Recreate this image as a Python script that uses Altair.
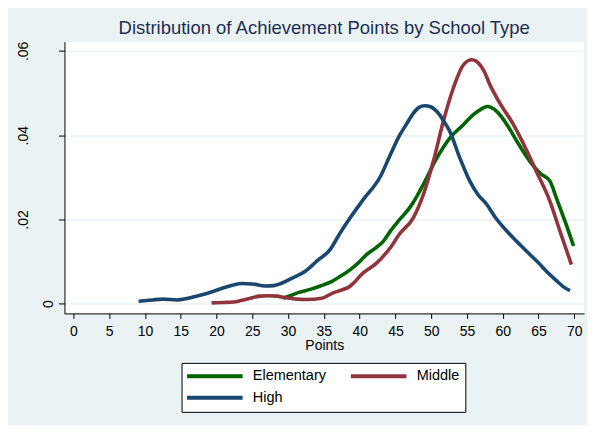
import altair as alt
import pandas as pd

# ---- data ----
high_x = [9.1, 11.0, 12.5, 14.5, 16.0, 17.7, 19.5, 21.0, 22.5, 23.5, 25.0, 26.8, 28.0, 29.0,
          30.5, 32.4, 33.5, 34.0, 35.9, 37.0, 38.2, 40.5, 42.9, 44.2, 45.6, 46.5, 47.5, 48.3,
          49.1, 50.0, 50.8, 51.7, 52.6, 54.0, 55.4, 56.5, 57.8, 59.0, 60.6, 62.0, 63.8, 65.0,
          66.1, 67.5, 68.5, 69.4]
high_y = [0.0006, 0.0009, 0.0011, 0.0009, 0.0013, 0.0020, 0.0029, 0.0038, 0.0045, 0.0048,
          0.0047, 0.0042, 0.0043, 0.0048, 0.0060, 0.0077, 0.0093, 0.0101, 0.0129, 0.0160,
          0.0192, 0.0247, 0.0302, 0.0350, 0.0400, 0.0425, 0.0452, 0.0466, 0.0470, 0.0467,
          0.0456, 0.0435, 0.0409, 0.0346, 0.0291, 0.0260, 0.0235, 0.0204, 0.0172, 0.0147,
          0.0117, 0.0097, 0.0077, 0.0055, 0.0040, 0.0031]

elem_x = [29.3, 30.5, 31.5, 33.1, 34.5, 35.9, 37.3, 38.7, 40.0, 41.0, 42.2, 43.3, 44.2, 45.6,
          47.0, 48.0, 48.9, 50.8, 52.6, 54.5, 55.9, 57.0, 57.8, 58.5, 59.2, 60.6, 62.0, 63.8,
          65.2, 66.6, 67.5, 68.7, 69.9]
elem_y = [0.0013, 0.0020, 0.0027, 0.0034, 0.0042, 0.0051, 0.0065, 0.0081, 0.0100, 0.0117,
          0.0132, 0.0148, 0.0170, 0.0200, 0.0228, 0.0255, 0.0283, 0.0346, 0.0393, 0.0425,
          0.0449, 0.0462, 0.0468, 0.0465, 0.0456, 0.0425, 0.0385, 0.0338, 0.0310, 0.0291,
          0.0251, 0.0196, 0.0137]

mid_x = [19.3, 21.0, 22.4, 23.5, 24.7, 26.0, 27.2, 28.4, 29.5, 30.7, 32.6, 34.7, 36.3, 38.7,
         40.5, 42.4, 44.2, 45.6, 47.5, 48.9, 50.3, 51.7, 53.1, 54.5, 55.7, 56.5, 57.3, 58.2,
         59.6, 61.5, 63.4, 64.7, 66.6, 68.0, 69.6]
mid_y = [0.0002, 0.0003, 0.0004, 0.0008, 0.0013, 0.0018, 0.0019, 0.0018, 0.0015, 0.0012,
         0.0010, 0.0013, 0.0026, 0.0042, 0.0073, 0.0097, 0.0131, 0.0166, 0.0204, 0.0259,
         0.0338, 0.0433, 0.0512, 0.0567, 0.0579, 0.0573, 0.0555, 0.0520, 0.0476, 0.0425,
         0.0362, 0.0314, 0.0243, 0.0172, 0.0093]

series = ["Elementary", "Middle", "High"]
colors = ["#006400", "#90353B", "#1A476F"]
x_ticks = list(range(0, 75, 5))
y_ticks = [0, 0.02, 0.04, 0.06]

frames = []
for name, xs, ys in [("Elementary", elem_x, elem_y), ("Middle", mid_x, mid_y), ("High", high_x, high_y)]:
    frames.append(pd.DataFrame({"Points": xs, "Density": ys, "School": name,
                                "order": range(len(xs))}))
df = pd.concat(frames, ignore_index=True)

FONT = "Liberation Sans"
BG = "#EAF2F3"

chart = alt.Chart(df).mark_line(strokeWidth=3.6, strokeJoin="round", interpolate="monotone").encode(
    x=alt.X("Points:Q",
            scale=alt.Scale(domain=[-1.26, 71.36], nice=False, zero=False),
            axis=alt.Axis(values=x_ticks, title="Points", grid=False, tickSize=5,
                          labelPadding=6, titlePadding=0, labelAngle=0,
                          titleFontWeight="normal", titleFontSize=14, titleFont=FONT)),
    y=alt.Y("Density:Q",
            scale=alt.Scale(domain=[-0.0023, 0.0622], nice=False, zero=False),
            axis=alt.Axis(values=y_ticks, title=None, grid=True, tickSize=6,
                          labelAngle=270, labelAlign="center", labelBaseline="alphabetic",
                          labelPadding={"condition": {"test": "datum.value == 0", "value": 6}, "value": 31},
                          labelExpr="datum.value == 0 ? '0' : '.0' + round(datum.value * 100)")),
    color=alt.Color("School:N",
                    scale=alt.Scale(domain=series, range=colors),
                    legend=alt.Legend(orient="none", legendX=117.2, legendY=321.5, columns=2,
                                      direction="horizontal",
                                      title=None, symbolType="M-5,0L5,0", symbolSize=123.6,
                                      symbolStrokeWidth=4, symbolOffset=19.8,
                                      labelFontSize=14.5, labelFont=FONT,
                                      labelColor="black", labelOffset=30, columnPadding=16,
                                      rowPadding=5.5, padding=5.5, fillColor="white",
                                      strokeColor="black", labelLimit=200)),
    order="order:Q",
).properties(
    width=520,
    height=272,
    title=alt.TitleParams("Distribution of Achievement Points by School Type",
                          anchor="middle", frame="group", baseline="alphabetic", offset=7, dy=18,
                          fontSize=18.5, font=FONT, fontWeight="normal", color="#1E2E52"),
    background=BG,
    padding={"left": 7.5, "top": 10.5, "right": 3, "bottom": 12},
).configure_view(
    fill="white", stroke=None
).configure_axis(
    domainColor="black", domainWidth=1, tickColor="black", tickWidth=1,
    labelColor="black", labelFont=FONT, labelFontSize=14, titleColor="black",
    gridColor=BG, gridWidth=1.3
)

chart.save("out.html", embed_options={"renderer": "svg", "actions": False})
